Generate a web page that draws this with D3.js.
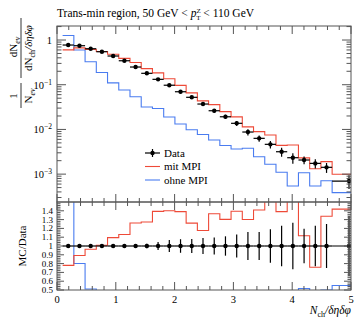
<!DOCTYPE html>
<html>
<head>
<meta charset="utf-8">
<script src="https://cdn.jsdelivr.net/npm/d3@7"></script>
<style>
  body { margin: 0; background: #fff; }
  svg text { font-family: "Liberation Serif", "DejaVu Serif", serif; fill: #000; }
</style>
</head>
<body>
<script>
// bin edges in N_ch / (deta dphi), one bin per charged particle, last bin wider
var binEdges = [0.0955, 0.2865, 0.4775, 0.6685, 0.8594, 1.0504, 1.2414, 1.4324, 1.6234, 1.8144,
                2.0054, 2.1963, 2.3873, 2.5783, 2.7693, 2.9603, 3.1513, 3.3423, 3.5332, 3.7242,
                3.9152, 4.1062, 4.2972, 4.4882, 4.6792, 5.2521];
var binCenters = [0.191, 0.382, 0.573, 0.764, 0.955, 1.146, 1.337, 1.528, 1.719, 1.910,
                  2.101, 2.292, 2.483, 2.674, 2.865, 3.056, 3.247, 3.438, 3.629, 3.820,
                  4.011, 4.202, 4.393, 4.584, 4.966];
var dataVals = [0.773, 0.746, 0.639, 0.547, 0.439, 0.344, 0.249, 0.180, 0.132, 0.0975,
                0.0697, 0.0523, 0.0370, 0.0262, 0.0192, 0.0137, 0.00875, 0.00632, 0.00464, 0.00317,
                0.00233, 0.00207, 0.00174, 0.00142, 0.000701];
var dataRelErr = [0.008, 0.008, 0.010, 0.010, 0.012, 0.015, 0.020, 0.025, 0.046, 0.068,
                  0.077, 0.080, 0.090, 0.096, 0.110, 0.130, 0.160, 0.160, 0.190, 0.230,
                  0.265, 0.196, 0.230, 0.250, 0.340];
var mitMPI = [0.603, 0.666, 0.615, 0.552, 0.481, 0.389, 0.314, 0.229, 0.184, 0.1365,
              0.0969, 0.0659, 0.0435, 0.0358, 0.0250, 0.0191, 0.01138, 0.00891, 0.0075, 0.00441,
              0.00448, 0.00231, 0.00132, 0.00190, 0.000995];
var ohneMPI = [1.26, 0.598, 0.327, 0.1875, 0.110, 0.0761, 0.0539, 0.0317, 0.0294, 0.0189,
               0.0132, 0.00984, 0.00769, 0.00579, 0.00436, 0.00365, 0.00378, 0.00245, 0.00166, 0.00110,
               0.000542, 0.00107, 0.000542, 0.000711, 0.000386];

var xTicks = [0, 1, 2, 3, 4, 5];
var yMajor = [1e-3, 1e-2, 1e-1, 1];
var yExp = ["\u22123", "\u22122", "\u22121", ""];
var ratioTicks = [0.5, 0.6, 0.7, 0.8, 0.9, 1, 1.1, 1.2, 1.3, 1.4];
var ratioLabels = ["0.5", "0.6", "0.7", "0.8", "0.9", "1", "1.1", "1.2", "1.3", "1.4"];
var legendNames = ["Data", "mit MPI", "ohne MPI"];
var colors = {data: "#000", mit: "#ee4a38", ohne: "#4a7cf0"};

var W = 354, H = 320;
var L = 57, R = 351, T = 26, M = 202, B = 290;

var svg = d3.select("body").append("svg")
  .attr("width", W).attr("height", H);

var x = d3.scaleLinear().domain([0, 5]).range([L, R]);
var y = d3.scaleLog().domain([2.38e-4, 2.06]).range([M, T]);
var r = d3.scaleLinear().domain([0.5, 1.5]).range([B, M]);

var defs = svg.append("defs");
defs.append("clipPath").attr("id", "clipMain")
  .append("rect").attr("x", L).attr("y", T).attr("width", R - L).attr("height", M - T);
defs.append("clipPath").attr("id", "clipRatio")
  .append("rect").attr("x", L).attr("y", M).attr("width", R - L).attr("height", B - M);

function stepPoints(vals) {
  var pts = [];
  vals.forEach(function(v, i) {
    pts.push([binEdges[i], v]);
    pts.push([binEdges[i + 1], v]);
  });
  return pts;
}

// ---------- main panel ----------
var gMain = svg.append("g").attr("clip-path", "url(#clipMain)");
var lineMain = d3.line().x(function(d) { return x(d[0]); }).y(function(d) { return y(d[1]); });

gMain.append("path").attr("d", lineMain(stepPoints(ohneMPI)))
  .attr("fill", "none").attr("stroke", colors.ohne).attr("stroke-width", 1.1);
gMain.append("path").attr("d", lineMain(stepPoints(mitMPI)))
  .attr("fill", "none").attr("stroke", colors.mit).attr("stroke-width", 1.1);

var pts = gMain.selectAll("g.pt").data(dataVals).enter().append("g").attr("class", "pt");
pts.append("line")
  .attr("x1", function(d, i) { return x(binEdges[i]); })
  .attr("x2", function(d, i) { return x(binEdges[i + 1]); })
  .attr("y1", function(d) { return y(d); })
  .attr("y2", function(d) { return y(d); })
  .attr("stroke", "#000").attr("stroke-width", 1.2);
pts.append("line")
  .attr("x1", function(d, i) { return x(binCenters[i]); })
  .attr("x2", function(d, i) { return x(binCenters[i]); })
  .attr("y1", function(d, i) { return y(d * (1 + dataRelErr[i])); })
  .attr("y2", function(d, i) { return y(d * (1 - dataRelErr[i])); })
  .attr("stroke", "#000").attr("stroke-width", 1.2);
pts.append("circle")
  .attr("cx", function(d, i) { return x(binCenters[i]); })
  .attr("cy", function(d) { return y(d); })
  .attr("r", 2.2).attr("fill", "#000");

// ---------- ratio panel ----------
var gRatio = svg.append("g").attr("clip-path", "url(#clipRatio)");
var lineRatio = d3.line().x(function(d) { return x(d[0]); }).y(function(d) { return r(d[1]); });

gRatio.append("path")
  .attr("d", lineRatio(stepPoints(ohneMPI.map(function(v, i) { return v / dataVals[i]; }))))
  .attr("fill", "none").attr("stroke", colors.ohne).attr("stroke-width", 1.1);
gRatio.append("path")
  .attr("d", lineRatio(stepPoints(mitMPI.map(function(v, i) { return v / dataVals[i]; }))))
  .attr("fill", "none").attr("stroke", colors.mit).attr("stroke-width", 1.1);

var rpts = gRatio.selectAll("g.rpt").data(dataRelErr).enter().append("g").attr("class", "rpt");
rpts.append("line")
  .attr("x1", function(d, i) { return x(binEdges[i]); })
  .attr("x2", function(d, i) { return x(binEdges[i + 1]); })
  .attr("y1", r(1)).attr("y2", r(1))
  .attr("stroke", "#000").attr("stroke-width", 1.2);
rpts.append("line")
  .attr("x1", function(d, i) { return x(binCenters[i]); })
  .attr("x2", function(d, i) { return x(binCenters[i]); })
  .attr("y1", function(d) { return r(1 + d); })
  .attr("y2", function(d) { return r(1 - d); })
  .attr("stroke", "#000").attr("stroke-width", 1.2);
rpts.append("circle")
  .attr("cx", function(d, i) { return x(binCenters[i]); })
  .attr("cy", r(1))
  .attr("r", 2.2).attr("fill", "#000");

// ---------- frames and ticks ----------
var axisCol = "#555";
var frame = svg.append("g").attr("stroke", axisCol).attr("stroke-width", 1).attr("fill", "none");
frame.append("rect").attr("x", L).attr("y", T).attr("width", R - L).attr("height", M - T);
frame.append("rect").attr("x", L).attr("y", M).attr("width", R - L).attr("height", B - M);

var ticks = svg.append("g").attr("stroke", axisCol).attr("stroke-width", 1);

// x ticks: major at integers, minor every 0.2
var xMinor = d3.range(0, 5.001, 0.2).filter(function(v) { return Math.abs(v - Math.round(v)) > 1e-6; });
function xTickSet(vals, len) {
  vals.forEach(function(v) {
    var px = x(v);
    ticks.append("line").attr("x1", px).attr("x2", px).attr("y1", T).attr("y2", T + len);
    ticks.append("line").attr("x1", px).attr("x2", px).attr("y1", M).attr("y2", M - len);
    ticks.append("line").attr("x1", px).attr("x2", px).attr("y1", M).attr("y2", M + len);
    ticks.append("line").attr("x1", px).attr("x2", px).attr("y1", B).attr("y2", B - len);
  });
}
xTickSet(xTicks, 8);
xTickSet(xMinor, 4);

// log y ticks
var yMinor = [];
[1e-4, 1e-3, 1e-2, 1e-1, 1].forEach(function(dec) {
  d3.range(2, 10).forEach(function(k) {
    var v = dec * k;
    if (v > y.domain()[0] && v < y.domain()[1]) yMinor.push(v);
  });
});
function yTickSet(vals, len) {
  vals.forEach(function(v) {
    var py = y(v);
    ticks.append("line").attr("x1", L).attr("x2", L + len).attr("y1", py).attr("y2", py);
    ticks.append("line").attr("x1", R).attr("x2", R - len).attr("y1", py).attr("y2", py);
  });
}
yTickSet(yMajor, 9);
yTickSet(yMinor, 4.5);

// ratio y ticks
var rMinor = d3.range(0.52, 1.5, 0.02).filter(function(v) {
  return Math.abs(v * 10 - Math.round(v * 10)) > 1e-6;
});
function rTickSet(vals, len) {
  vals.forEach(function(v) {
    var py = r(v);
    ticks.append("line").attr("x1", L).attr("x2", L + len).attr("y1", py).attr("y2", py);
    ticks.append("line").attr("x1", R).attr("x2", R - len).attr("y1", py).attr("y2", py);
  });
}
rTickSet(ratioTicks, 7);
rTickSet(rMinor, 3.5);

// ---------- tick labels ----------
svg.selectAll("text.xl").data(xTicks).enter().append("text")
  .attr("x", function(d) { return x(d); }).attr("y", B + 13)
  .attr("text-anchor", "middle").style("font-size", "10.5px")
  .text(function(d) { return d; });

var yl = svg.selectAll("text.yl").data(yMajor).enter().append("text")
  .attr("x", L - 5).attr("y", function(d) { return y(d) + 4; })
  .attr("text-anchor", "end").style("font-size", "10.5px");
yl.append("tspan").text(function(d, i) { return d === 1 ? "1" : "10"; });
yl.append("tspan").attr("dy", -4).style("font-size", "7.5px")
  .text(function(d, i) { return yExp[i]; });

svg.selectAll("text.rl").data(ratioTicks).enter().append("text")
  .attr("x", L - 4).attr("y", function(d) { return r(d) + 3; })
  .attr("text-anchor", "end").style("font-size", "9px")
  .text(function(d, i) { return ratioLabels[i]; });

// ---------- title ----------
var title = svg.append("text").attr("x", L).attr("y", 17).style("font-size", "11.5px");
title.append("tspan").text("Trans-min region, 50 GeV < ");
title.append("tspan").style("font-style", "italic").text("p");
title.append("tspan").attr("dy", -4.5).style("font-size", "7px").text("Z");
title.append("tspan").attr("dx", -4.5).attr("dy", 7.5).style("font-size", "7px").text("T");
title.append("tspan").attr("dy", -3).text(" < 110 GeV");

// ---------- axis labels ----------
var xlab = svg.append("text").attr("x", R).attr("y", 314)
  .attr("text-anchor", "end").style("font-size", "11.5px");
xlab.append("tspan").style("font-style", "italic").text("N");
xlab.append("tspan").attr("dy", 3).style("font-size", "8px").text("ch");
xlab.append("tspan").attr("dy", -3).style("font-style", "italic").text("/\u03b4\u03b7\u03b4\u03c6");

svg.append("text")
  .attr("transform", "translate(26," + r(1) + ") rotate(-90)")
  .attr("text-anchor", "middle").style("font-size", "11px")
  .text("MC/Data");

// main y label: 1/N_ev dN_ev / (dN_ch/deta dphi), rotated
var yg = svg.append("g").attr("transform", "rotate(-90)");
yg.append("text").attr("x", -96).attr("y", 17)
  .attr("text-anchor", "middle").style("font-size", "11px").text("1");
yg.append("line").attr("x1", -108).attr("x2", -83).attr("y1", 21).attr("y2", 21)
  .attr("stroke", "#000").attr("stroke-width", 0.8);
var den1 = yg.append("text").attr("x", -96).attr("y", 32)
  .attr("text-anchor", "middle").style("font-size", "11px");
den1.append("tspan").text("N");
den1.append("tspan").attr("dy", 3).style("font-size", "8px").style("font-style", "italic").text("ev");

var num2 = yg.append("text").attr("x", -47).attr("y", 17)
  .attr("text-anchor", "middle").style("font-size", "11px");
num2.append("tspan").text("dN");
num2.append("tspan").attr("dy", 3).style("font-size", "8px").style("font-style", "italic").text("ev");
yg.append("line").attr("x1", -78).attr("x2", -18).attr("y1", 21).attr("y2", 21)
  .attr("stroke", "#000").attr("stroke-width", 0.8);
var den2 = yg.append("text").attr("x", -48).attr("y", 32)
  .attr("text-anchor", "middle").style("font-size", "11px");
den2.append("tspan").text("dN");
den2.append("tspan").attr("dy", 3).style("font-size", "8px").text("ch");
den2.append("tspan").attr("dy", -3).style("font-style", "italic").text("/\u03b4\u03b7\u03b4\u03c6");

// ---------- legend ----------
var lg = svg.append("g");
var lgY = [153, 166.5, 180];
var lgCol = [colors.data, colors.mit, colors.ohne];
legendNames.forEach(function(name, i) {
  lg.append("line").attr("x1", 145).attr("x2", 160).attr("y1", lgY[i]).attr("y2", lgY[i])
    .attr("stroke", lgCol[i]).attr("stroke-width", i === 0 ? 1.2 : 1.1);
  lg.append("text").attr("x", 164).attr("y", lgY[i] + 3.5)
    .style("font-size", "11px").text(name);
});
lg.append("line").attr("x1", 152.5).attr("x2", 152.5).attr("y1", lgY[0] - 4).attr("y2", lgY[0] + 4)
  .attr("stroke", "#000").attr("stroke-width", 1.2);
lg.append("circle").attr("cx", 152.5).attr("cy", lgY[0]).attr("r", 2.2).attr("fill", "#000");
</script>
</body>
</html>
